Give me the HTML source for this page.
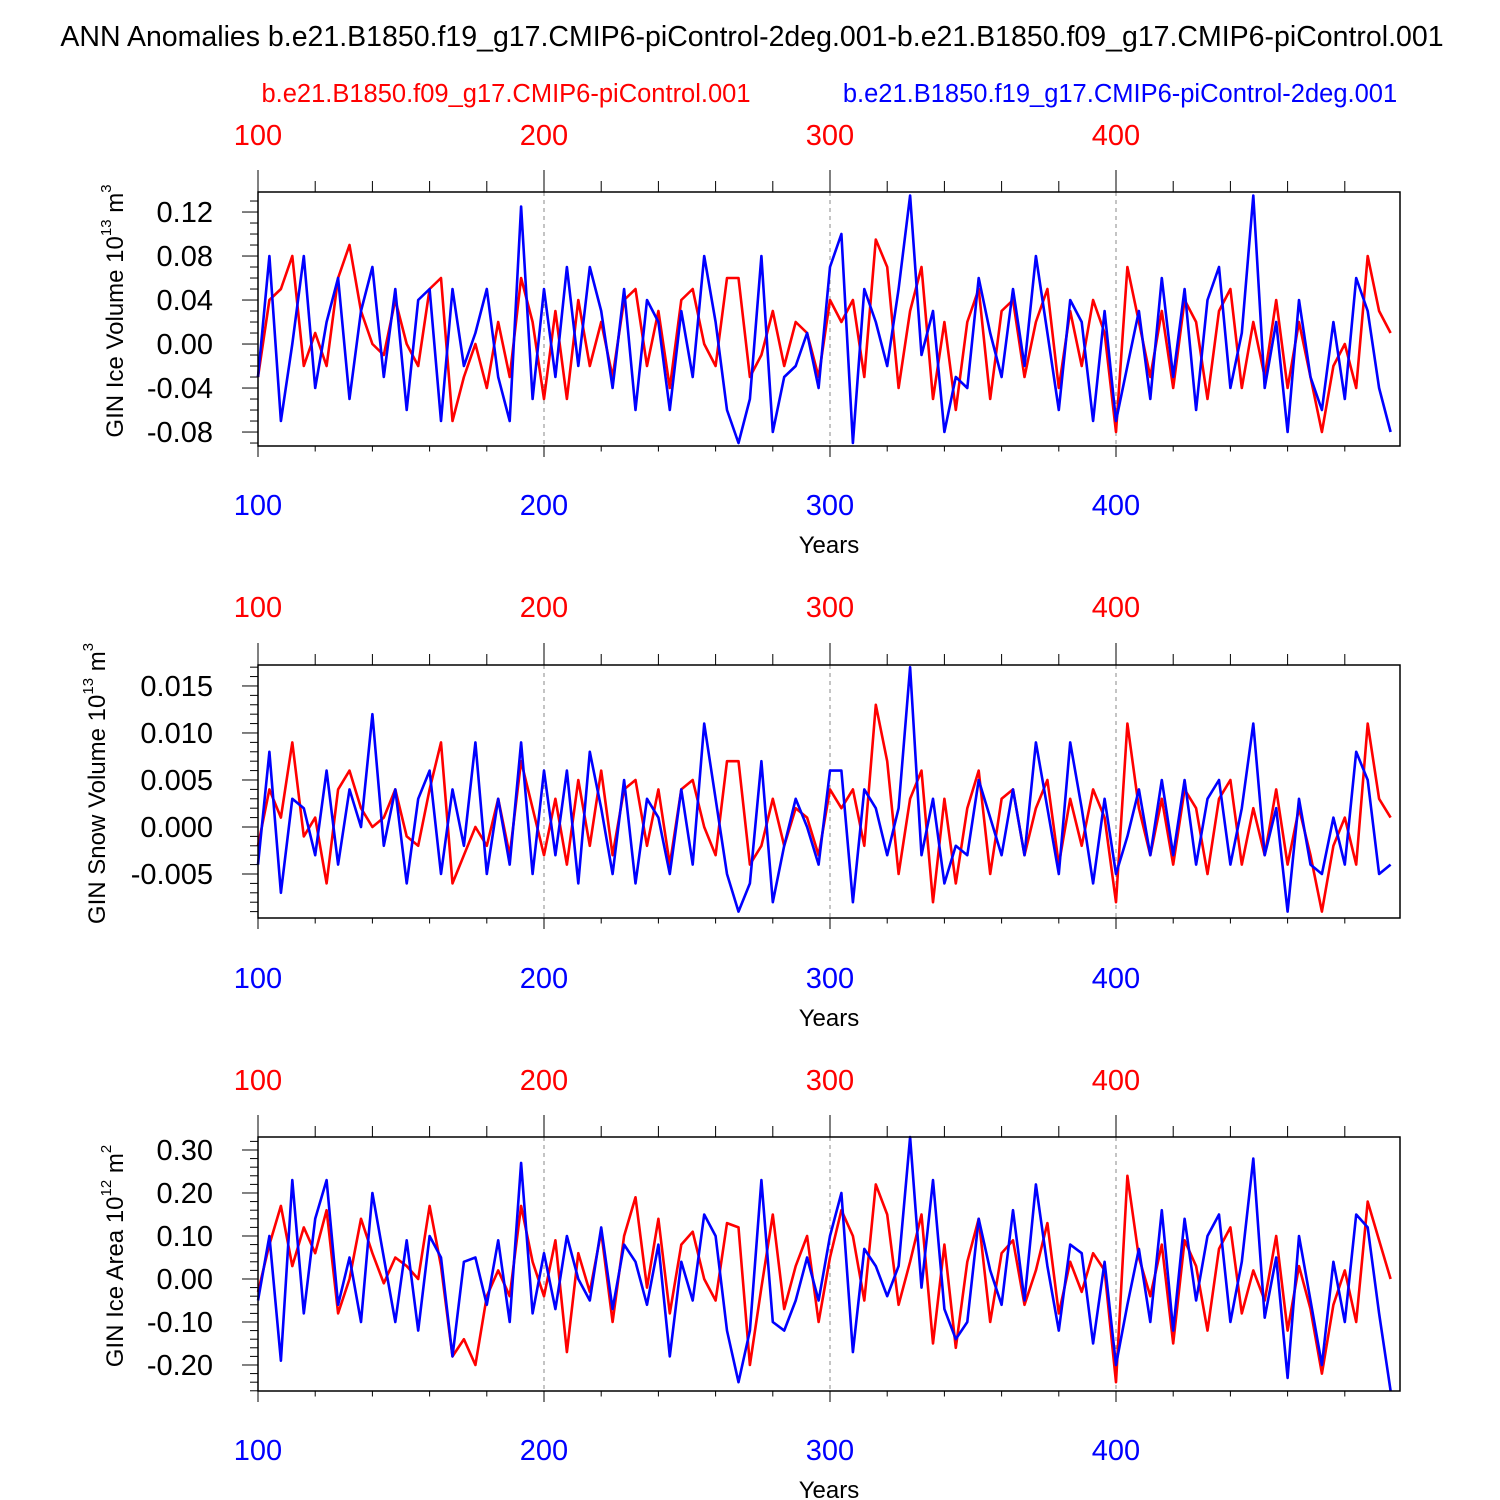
<!DOCTYPE html>
<html><head><meta charset="utf-8"><style>
body{margin:0;background:#fff}
svg{display:block;font-family:"Liberation Sans",Arial,sans-serif}
</style></head><body>
<svg id="chart" width="1500" height="1500" viewBox="0 0 1500 1500" xmlns="http://www.w3.org/2000/svg">
<text x="752" y="46" font-size="28.5" text-anchor="middle">ANN Anomalies b.e21.B1850.f19_g17.CMIP6-piControl-2deg.001-b.e21.B1850.f09_g17.CMIP6-piControl.001</text>
<text x="506" y="102" font-size="25.5" fill="#ff0000" text-anchor="middle">b.e21.B1850.f09_g17.CMIP6-piControl.001</text>
<text x="1120" y="102" font-size="25.5" fill="#0000ff" text-anchor="middle">b.e21.B1850.f19_g17.CMIP6-piControl-2deg.001</text>
</svg>
<script>
const years = [];
for (let y = 100; y <= 496; y += 4) years.push(y);
const iceVolBlue = [-0.03,0.08,-0.07,0.0,0.08,-0.04,0.02,0.06,-0.05,0.03,0.07,-0.03,0.05,-0.06,0.04,0.05,-0.07,0.05,-0.02,0.01,0.05,-0.03,-0.07,0.125,-0.05,0.05,-0.03,0.07,-0.02,0.07,0.03,-0.04,0.05,-0.06,0.04,0.02,-0.06,0.03,-0.03,0.08,0.02,-0.06,-0.09,-0.05,0.08,-0.08,-0.03,-0.02,0.01,-0.04,0.07,0.10,-0.09,0.05,0.02,-0.02,0.05,0.135,-0.01,0.03,-0.08,-0.03,-0.04,0.06,0.01,-0.03,0.05,-0.02,0.08,0.01,-0.06,0.04,0.02,-0.07,0.03,-0.07,-0.02,0.03,-0.05,0.06,-0.03,0.05,-0.06,0.04,0.07,-0.04,0.01,0.135,-0.04,0.02,-0.08,0.04,-0.03,-0.06,0.02,-0.05,0.06,0.03,-0.04,-0.08];
const iceVolRed = [-0.03,0.04,0.05,0.08,-0.02,0.01,-0.02,0.06,0.09,0.03,0.0,-0.01,0.04,0.0,-0.02,0.05,0.06,-0.07,-0.03,0.0,-0.04,0.02,-0.03,0.06,0.02,-0.05,0.03,-0.05,0.04,-0.02,0.02,-0.03,0.04,0.05,-0.02,0.03,-0.04,0.04,0.05,0.0,-0.02,0.06,0.06,-0.03,-0.01,0.03,-0.02,0.02,0.01,-0.03,0.04,0.02,0.04,-0.03,0.095,0.07,-0.04,0.03,0.07,-0.05,0.02,-0.06,0.02,0.05,-0.05,0.03,0.04,-0.03,0.02,0.05,-0.04,0.03,-0.02,0.04,0.01,-0.08,0.07,0.02,-0.03,0.03,-0.04,0.04,0.02,-0.05,0.03,0.05,-0.04,0.02,-0.03,0.04,-0.04,0.02,-0.03,-0.08,-0.02,0.0,-0.04,0.08,0.03,0.01];
const snowBlue = [-0.004,0.008,-0.007,0.003,0.002,-0.003,0.006,-0.004,0.004,0.0,0.012,-0.002,0.004,-0.006,0.003,0.006,-0.005,0.004,-0.002,0.009,-0.005,0.003,-0.004,0.009,-0.005,0.006,-0.003,0.006,-0.006,0.008,0.002,-0.005,0.005,-0.006,0.003,0.001,-0.005,0.004,-0.004,0.011,0.003,-0.005,-0.009,-0.006,0.007,-0.008,-0.002,0.003,0.0,-0.004,0.006,0.006,-0.008,0.004,0.002,-0.003,0.002,0.017,-0.003,0.003,-0.006,-0.002,-0.003,0.005,0.001,-0.003,0.004,-0.003,0.009,0.002,-0.005,0.009,0.002,-0.006,0.003,-0.005,-0.001,0.004,-0.003,0.005,-0.003,0.005,-0.004,0.003,0.005,-0.004,0.002,0.011,-0.003,0.002,-0.009,0.003,-0.004,-0.005,0.001,-0.004,0.008,0.005,-0.005,-0.004];
const snowRed = [-0.002,0.004,0.001,0.009,-0.001,0.001,-0.006,0.004,0.006,0.002,0.0,0.001,0.004,-0.001,-0.002,0.004,0.009,-0.006,-0.003,0.0,-0.002,0.003,-0.003,0.007,0.002,-0.003,0.003,-0.004,0.005,-0.002,0.006,-0.003,0.004,0.005,-0.002,0.004,-0.004,0.004,0.005,0.0,-0.003,0.007,0.007,-0.004,-0.002,0.003,-0.002,0.002,0.001,-0.003,0.004,0.002,0.004,-0.002,0.013,0.007,-0.005,0.003,0.006,-0.008,0.003,-0.006,0.002,0.006,-0.005,0.003,0.004,-0.003,0.002,0.005,-0.004,0.003,-0.002,0.004,0.001,-0.008,0.011,0.002,-0.003,0.003,-0.004,0.004,0.002,-0.005,0.003,0.005,-0.004,0.002,-0.003,0.004,-0.004,0.002,-0.003,-0.009,-0.002,0.001,-0.004,0.011,0.003,0.001];
const areaBlue = [-0.05,0.1,-0.19,0.23,-0.08,0.14,0.23,-0.06,0.05,-0.1,
 0.2,0.05,-0.1,0.09,-0.12,0.1,0.05,-0.18,0.04,0.05,
 -0.06,0.09,-0.1,0.27,-0.08,0.06,-0.07,0.1,0.0,-0.05,
 0.12,-0.07,0.08,0.04,-0.06,0.08,-0.18,0.04,-0.05,0.15,
 0.1,-0.12,-0.24,-0.12,0.23,-0.1,-0.12,-0.05,0.05,-0.05,
 0.1,0.2,-0.17,0.07,0.03,-0.04,0.03,0.33,-0.02,0.23,
 -0.07,-0.14,-0.1,0.14,0.02,-0.06,0.16,-0.05,0.22,0.03,
 -0.12,0.08,0.06,-0.15,0.04,-0.2,-0.06,0.07,-0.1,0.16,
 -0.12,0.14,-0.05,0.1,0.15,-0.1,0.04,0.28,-0.09,0.05,
 -0.23,0.1,-0.05,-0.2,0.04,-0.1,0.15,0.12,-0.08,-0.26];
const areaRed = [-0.03,0.08,0.17,0.03,0.12,0.06,0.16,-0.08,0.0,0.14,0.06,-0.01,0.05,0.03,0.0,0.17,0.03,-0.18,-0.14,-0.2,-0.04,0.02,-0.04,0.17,0.04,-0.04,0.09,-0.17,0.06,-0.03,0.11,-0.1,0.1,0.19,-0.02,0.14,-0.08,0.08,0.11,0.0,-0.05,0.13,0.12,-0.2,-0.02,0.15,-0.07,0.03,0.1,-0.1,0.05,0.16,0.1,-0.05,0.22,0.15,-0.06,0.04,0.15,-0.15,0.08,-0.16,0.04,0.14,-0.1,0.06,0.09,-0.06,0.02,0.13,-0.08,0.04,-0.03,0.06,0.02,-0.24,0.24,0.05,-0.04,0.08,-0.15,0.09,0.03,-0.12,0.07,0.12,-0.08,0.02,-0.05,0.1,-0.12,0.03,-0.07,-0.22,-0.06,0.02,-0.1,0.18,0.09,0.0];

const panels = [
  {name:'ice-volume', top:192, bot:446, ymin:-0.0927, ymax:0.1382, major:[-0.08,-0.04,0,0.04,0.08,0.12], dec:2, minor:0.01, blue:iceVolBlue, red:iceVolRed, t:'GIN Ice Volume 10', sup:'13', unit:' m', sup2:'3', tx:123, redY:145, blueY:515, yearsY:553},
  {name:'snow-volume', top:665, bot:918, ymin:-0.00968, ymax:0.01723, major:[-0.005,0,0.005,0.010,0.015], dec:3, minor:0.001, blue:snowBlue, red:snowRed, t:'GIN Snow Volume 10', sup:'13', unit:' m', sup2:'3', tx:105, redY:617, blueY:988, yearsY:1026},
  {name:'ice-area', top:1137, bot:1391, ymin:-0.2605, ymax:0.3302, major:[-0.2,-0.1,0,0.1,0.2,0.3], dec:2, minor:0.02, blue:areaBlue, red:areaRed, t:'GIN Ice Area 10', sup:'12', unit:' m', sup2:'2', tx:123, redY:1090, blueY:1460, yearsY:1498}
];
const svg = document.getElementById('chart');
const NS = 'http://www.w3.org/2000/svg';
const X0=258, X1=1400, YR0=100, YR1=499.3;
function xs(y){return X0+(y-YR0)/(YR1-YR0)*(X1-X0);}
function mk(tag, attrs, parent){const e=document.createElementNS(NS,tag);for(const k in attrs)e.setAttribute(k,attrs[k]);(parent||svg).appendChild(e);return e;}

panels.forEach(p=>{
  const g = mk('g',{});
  
  
  const ys = v => p.bot-(v-p.ymin)/(p.ymax-p.ymin)*(p.bot-p.top);
  [200,300,400].forEach(yr=>{
    const l = mk('line',{x1:xs(yr),x2:xs(yr),y1:p.top,y2:p.bot,stroke:'#888','stroke-width':1,'stroke-dasharray':'4,4'},g);
    
    
  });
  [['red',p.red,'#ff0000'],['blue',p.blue,'#0000ff']].forEach(([nm,arr,col])=>{
    const pts = arr.map((v,i)=>xs(years[i]).toFixed(1)+','+ys(v).toFixed(1)).join(' ');
    const pl = mk('polyline',{points:pts,fill:'none',stroke:col,'stroke-width':2.6,'stroke-linejoin':'round'},g);
    
    
  });
  const bx = mk('rect',{x:X0,y:p.top,width:X1-X0,height:p.bot-p.top,fill:'none',stroke:'#000','stroke-width':1.5},g);
  
  
  for(let yr=100; yr<=480; yr+=20){
    const maj = yr%100===0, len = maj?22:11;
    mk('line',{x1:xs(yr),x2:xs(yr),y1:p.top,y2:p.top-len,stroke:'#000','stroke-width':1},g);
    mk('line',{x1:xs(yr),x2:xs(yr),y1:p.bot,y2:p.bot+len/2,stroke:'#000','stroke-width':1},g);
  }
  [100,200,300,400].forEach(yr=>{
    const t1 = mk('text',{x:xs(yr),y:p.redY,'font-size':29,fill:'#ff0000','text-anchor':'middle'},g);
    t1.textContent = yr;
    
    
    const t2 = mk('text',{x:xs(yr),y:p.blueY,'font-size':29,fill:'#0000ff','text-anchor':'middle'},g);
    t2.textContent = yr;
    
    
  });
  const xt = mk('text',{x:829,y:p.yearsY,'font-size':24,'text-anchor':'middle'},g);
  xt.textContent='Years';
  
  
  const start = Math.ceil(p.ymin/p.minor), end = Math.floor(p.ymax/p.minor);
  for(let k=start;k<=end;k++){
    const v=k*p.minor; const yy=ys(v);
    const isMaj = p.major.some(m=>Math.abs(m-v)<p.minor/10);
    mk('line',{x1:X0,x2:X0-(isMaj?16:8),y1:yy,y2:yy,stroke:'#000','stroke-width':1},g);
  }
  p.major.forEach(m=>{
    const t = mk('text',{x:X0-45,y:ys(m)+10,'font-size':29,'text-anchor':'end'},g);
    t.textContent = m.toFixed(p.dec);
    
    
  });
  const mid = (p.top+p.bot)/2;
  const yt = mk('text',{x:0,y:0,'font-size':24,'text-anchor':'middle',transform:`translate(${p.tx},${mid-8}) rotate(-90)`},g);
  
  
  yt.innerHTML = `${p.t}<tspan font-size="15" dy="-12">${p.sup}</tspan><tspan dy="12">${p.unit}</tspan><tspan font-size="15" dy="-12">${p.sup2}</tspan>`;
});
</script>
</body></html>
